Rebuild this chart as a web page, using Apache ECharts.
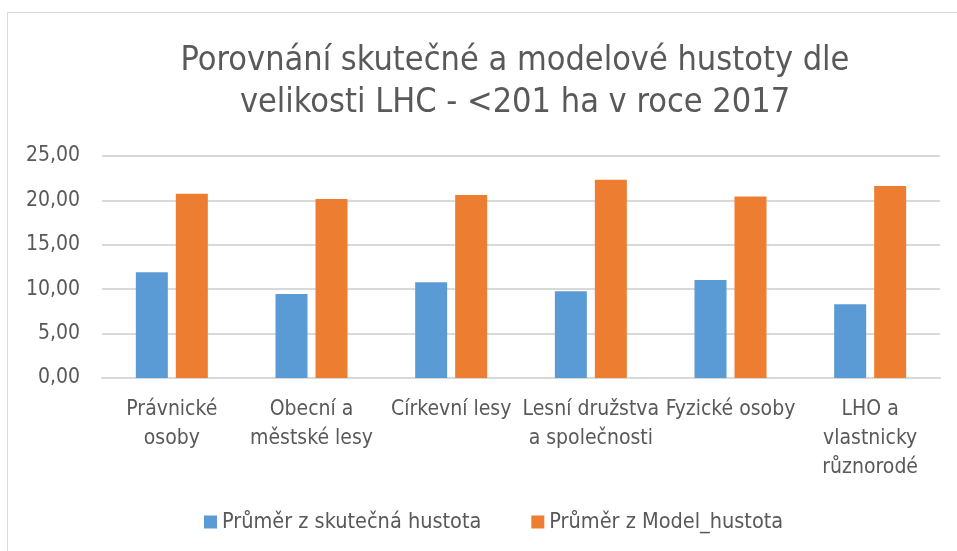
<!DOCTYPE html>
<html><head><meta charset="utf-8">
<script src="https://cdn.jsdelivr.net/npm/echarts@6/dist/echarts.min.js"></script>
<style>html,body{margin:0;padding:0;background:#fff}#c{width:957px;height:551px}</style>
</head><body><div id="c"></div>
<script>
const categories = ["Právnické osoby","Obecní a městské lesy","Církevní lesy","Lesní družstva a společnosti","Fyzické osoby","LHO a vlastnicky různorodé"];
const tickLabels = ["Právnické\nosoby","Obecní a\nměstské lesy","Církevní lesy","Lesní družstva\na společnosti","Fyzické osoby","LHO a\nvlastnicky\nrůznorodé"];
const seriesNames = ["Průměr z skutečná hustota","Průměr z Model_hustota"];
const actual = [11.92, 9.47, 10.79, 9.77, 11.05, 8.31];
const model = [20.75, 20.15, 20.60, 22.33, 20.45, 21.62];
const titleText = "Porovnání skutečné a modelové hustoty dle\nvelikosti LHC - <201 ha v roce 2017";

const FONT = "'Liberation Sans Narrow','DejaVu Sans Condensed','Liberation Sans',sans-serif";
const chart = echarts.init(document.getElementById('c'), null, {renderer:'canvas'});
chart.setOption({
  backgroundColor:'#fff',
  animation:false,
  graphic:[{type:'rect',shape:{x:7.5,y:12.5,width:1000,height:600},style:{fill:'none',stroke:'#d9d9d9',lineWidth:1},silent:true}],
  title:{text:titleText,left:510,textAlign:'center',top:35,
    textStyle:{fontFamily:FONT,fontSize:34,fontWeight:'normal',color:'#595959',lineHeight:42}},
  legend:{bottom:13,left:199,itemWidth:13,itemHeight:13,itemGap:50,icon:'rect',
    textStyle:{fontFamily:FONT,fontSize:21.5,color:'#595959'},data:seriesNames},
  grid:{left:102,right:17,top:156,bottom:173,containLabel:false},
  xAxis:{type:'category',data:categories,
    axisLine:{lineStyle:{color:'#d9d9d9',width:2}},axisTick:{show:false},
    axisLabel:{fontFamily:FONT,fontSize:21,color:'#595959',lineHeight:29,margin:17,interval:0,
      formatter:(v,i)=>tickLabels[i]}},
  yAxis:{type:'value',min:0,max:25,interval:5,
    axisLine:{show:false},axisTick:{show:false},
    splitLine:{lineStyle:{color:'#d9d9d9',width:2}},
    axisLabel:{fontFamily:FONT,fontSize:21,color:'#595959',margin:22,
      formatter:v=>v.toFixed(2).replace('.',',')}},
  series:[
    {name:seriesNames[0],type:'bar',data:actual,barWidth:32,barGap:'25%',itemStyle:{color:'#5B9BD5'}},
    {name:seriesNames[1],type:'bar',data:model,barWidth:32,barGap:'25%',itemStyle:{color:'#ED7D31'}}
  ]
});
</script></body></html>
